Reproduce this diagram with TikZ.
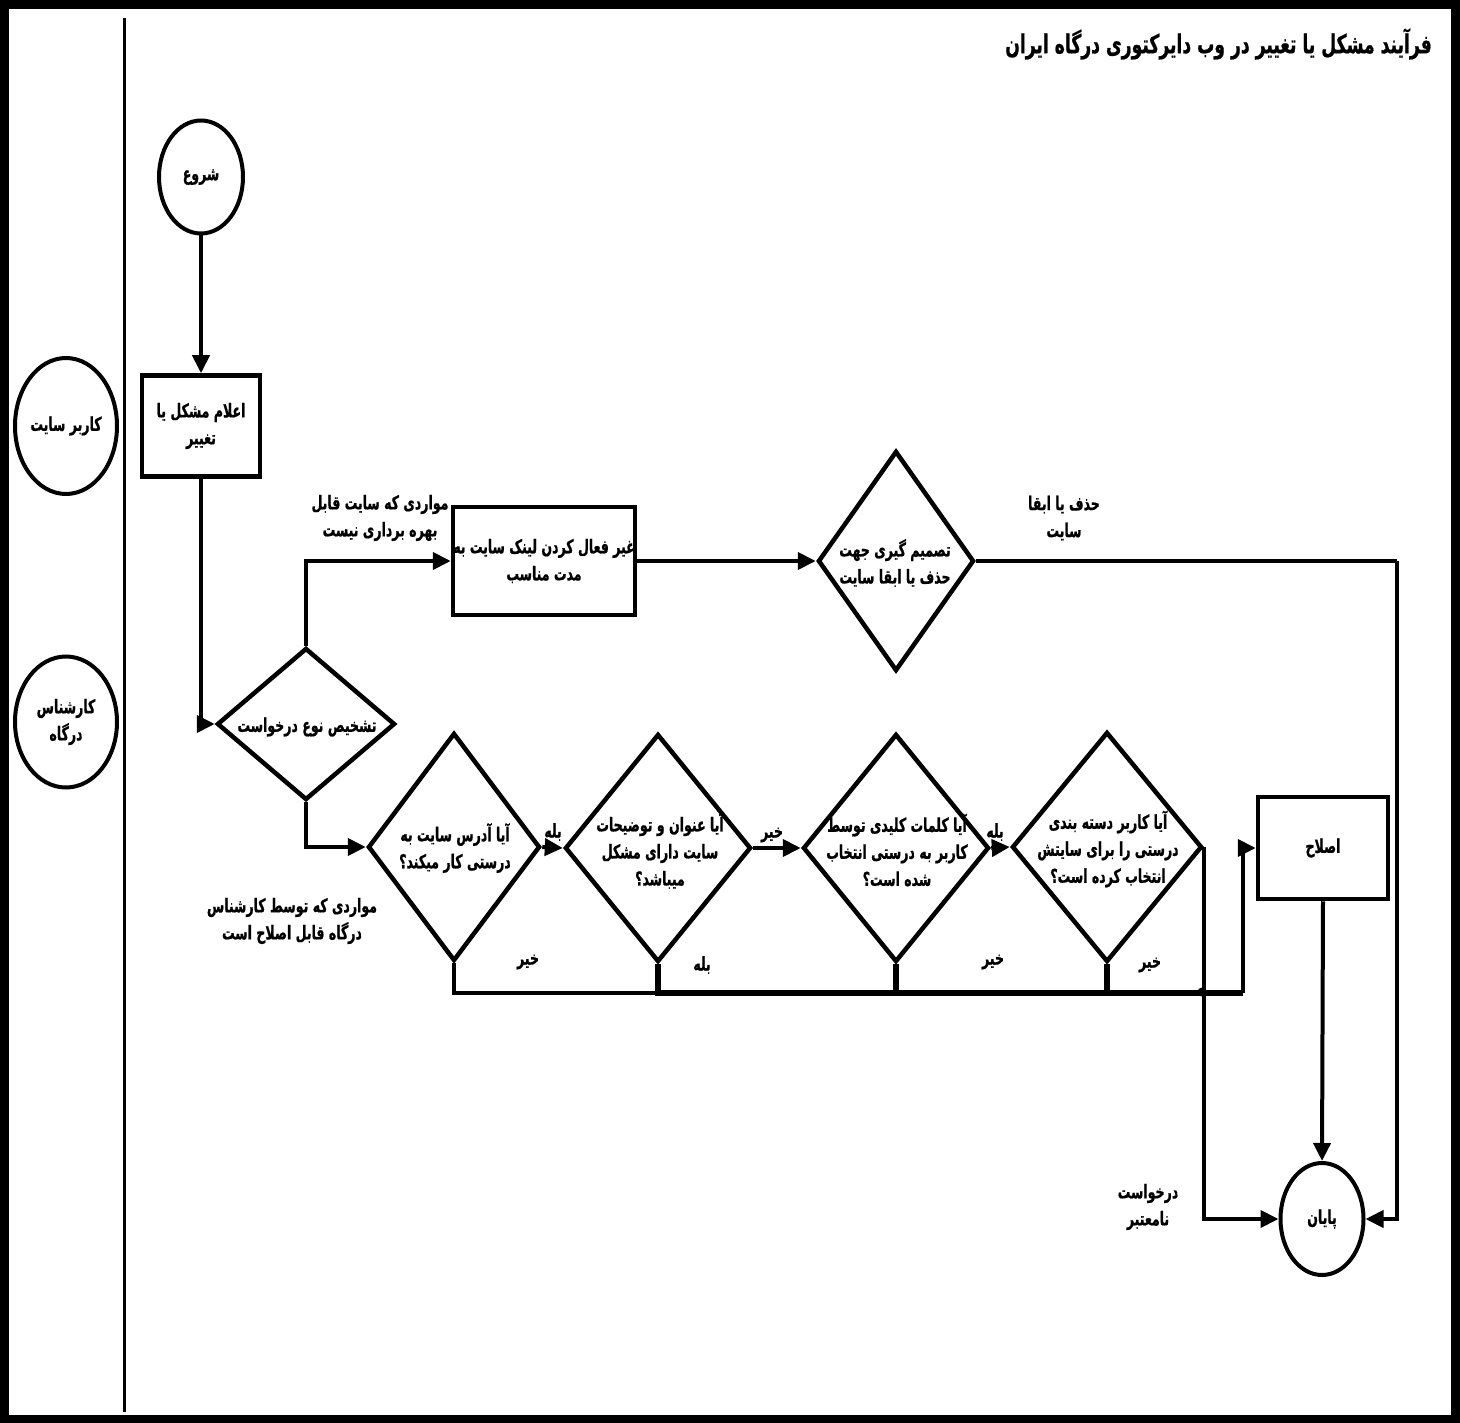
\documentclass[tikz,border=0pt]{standalone}
\usepackage{fontspec}
\usetikzlibrary{shapes.geometric,arrows.meta}
\TeXXeTstate=1
\newfontfamily\arabicfont[Script=Arabic,FakeStretch=0.66,FakeBold=0.8]{DejaVu Sans}
\newcommand\prs[1]{{\arabicfont\bfseries\beginR #1\endR}}
\begin{document}
\begin{tikzpicture}[x=1pt,y=-1pt,
  txt/.style={align=center,inner sep=0pt,font=\fontsize{19}{27}\selectfont},
  dia/.style={diamond,draw,line width=4.5pt,inner sep=0pt},
  boxs/.style={rectangle,draw,line width=4.5pt,inner sep=0pt,align=center,font=\fontsize{19}{27}\selectfont},
  ell/.style={ellipse,draw,line width=4pt,inner sep=0pt,align=center,font=\fontsize{19}{27}\selectfont},
  conn/.style={line width=4pt},
  arr/.style={conn,-{Triangle[length=18pt,width=17pt]}}]
\useasboundingbox (0,0) rectangle (1460,1423);
% frame and lane divider
\draw[line width=9pt] (4.5,4.5) rectangle (1455,1419);
\coordinate (lt) at (124,18);
\coordinate (lb) at (124,1412);
\draw[line width=3pt] (lt) -- (lb);
% title
\node[anchor=east,inner sep=0pt,font=\fontsize{26}{28}\selectfont] (title) at (1432,44) {\prs{فرآیند مشکل یا تغییر در وب دایرکتوری درگاه ایران}};
% lanes
\node[ell,minimum width=102,minimum height=136] (lane1) at (66,426) {\prs{کاربر سایت}};
\node[ell,minimum width=102,minimum height=131] (lane2) at (66,722) {\prs{کارشناس}\\\prs{درگاه}};
% nodes
\node[ell,minimum width=84,minimum height=113] (start) at (201,177) {\prs{شروع}};
\node[boxs,minimum width=118,minimum height=101] (b1) at (201,426) {\prs{اعلام مشکل یا}\\\prs{تغییر}};
\node[dia,minimum width=178,minimum height=152] (d1) at (306,724) {};
\node[txt] (d1t) at (307,727) {\prs{تشخیص نوع درخواست}};
\node[boxs,minimum width=182,minimum height=108] (b2) at (544,561) {\prs{غیر فعال کردن لینک سایت به}\\\prs{مدت مناسب}};
\node[dia,minimum width=156,minimum height=220] (dec) at (896,561) {};
\node[txt] (dect) at (895,563) {\prs{تصمیم گیری جهت}\\\prs{حذف یا ابقا سایت}};
\node[dia,minimum width=172,minimum height=228] (A) at (454,847) {};
\node[txt] (At) at (455,848) {\prs{آیا آدرس سایت به}\\\prs{درستی کار میکند؟}};
\node[dia,minimum width=186,minimum height=228] (B) at (658,848) {};
\node[txt] (Bt) at (660,851) {\prs{آیا عنوان و توضیحات}\\\prs{سایت دارای مشکل}\\\prs{میباشد؟}};
\node[dia,minimum width=186,minimum height=228] (C) at (896,848) {};
\node[txt] (Ct) at (897,850) {\prs{آیا کلمات کلیدی توسط}\\\prs{کاربر به درستی انتخاب}\\\prs{شده است؟}};
\node[dia,minimum width=190,minimum height=230] (D) at (1107,847) {};
\node[txt] (Dt) at (1108,849) {\prs{آیا کاربر دسته بندی}\\\prs{درستی را برای سایتش}\\\prs{انتخاب کرده است؟}};
\node[boxs,minimum width=130,minimum height=102] (fix) at (1323,848) {\prs{اصلاح}};
\node[ell,minimum width=83,minimum height=112] (endc) at (1322,1219) {\prs{پایان}};
% labels
\node[txt] (L1) at (380,518) {\prs{مواردی که سایت قابل}\\\prs{بهره برداری نیست}};
\node[txt] (L2) at (1064,518) {\prs{حذف یا ابقا}\\\prs{سایت}};
\node[txt] (L3) at (292,921) {\prs{مواردی که توسط کارشناس}\\\prs{درگاه قابل اصلاح است}};
\node[txt] (L4) at (1148,1207) {\prs{درخواست}\\\prs{نامعتبر}};
\node[txt] (y1) at (553,832) {\prs{بله}};
\node[txt] (n1) at (772,835) {\prs{خیر}};
\node[txt] (y2) at (995,832) {\prs{بله}};
\node[txt] (n2) at (528,962) {\prs{خیر}};
\node[txt] (y3) at (702,965) {\prs{بله}};
\node[txt] (n3) at (993,962) {\prs{خیر}};
\node[txt] (n4) at (1150,965) {\prs{خیر}};
% helper coordinates
\coordinate (m) at (1243,993);
\coordinate (r1) at (1397,561);
\coordinate (jmp) at (1202,992);
% connectors
\draw[arr] (start) -- (b1);
\draw[arr] (b1.south) |- (d1.west);
\draw[arr] (d1.north) |- (b2.west);
\draw[arr] (b2.east) -- (dec.west);
\draw[conn] (dec.east) -- (r1);
\draw[arr] (r1) |- (endc.east);
\draw[arr] (d1.south) |- (A.west);
\draw[arr] (A.east) -- (B.west);
\draw[arr] (B.east) -- (C.west);
\draw[arr] (C.east) -- (D.west);
\draw[conn] (A.south) |- (m);
\draw[conn,line width=5.5pt] (B.south) |- (m);
\draw[conn,line width=5.5pt] (C.south) |- (m);
\draw[conn,line width=5.5pt] (D.south) |- (m);
\draw[arr] (m) |- (fix.west);
\draw[arr] (D.east) |- (endc.west);
\fill (jmp) circle (4.5pt);
\draw[arr] (fix.south) -- (endc.north);
\end{tikzpicture}
\end{document}
